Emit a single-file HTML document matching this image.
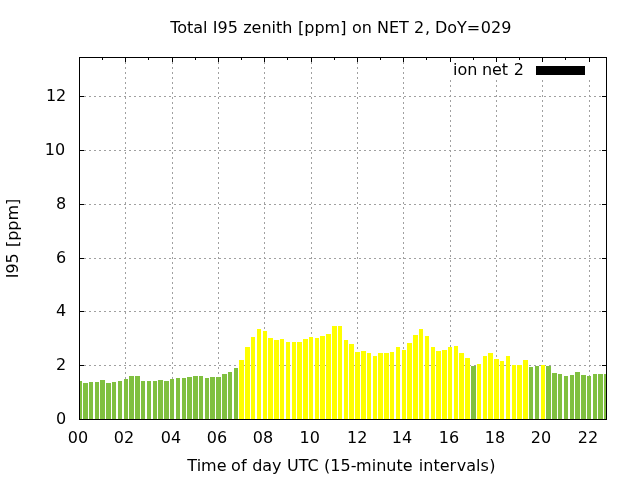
<!DOCTYPE html>
<html lang="en"><head><meta charset="utf-8"><title>Total I95 zenith [ppm] on NET 2, DoY=029</title>
<style>html,body{margin:0;padding:0;background:#fff}body{width:640px;height:480px;overflow:hidden}svg{display:block}text{font-family:"DejaVu Sans","Liberation Sans",sans-serif;font-size:16px;fill:#000}</style></head><body>
<svg width="640" height="480" viewBox="0 0 640 480">
<rect width="640" height="480" fill="#fff"/>
<g shape-rendering="crispEdges" fill="#a0a0a0">
<line x1="79" x2="607" y1="365.5" y2="365.5" stroke="#a0a0a0" stroke-width="1" stroke-dasharray="2 3" fill="none"/>
<line x1="79" x2="607" y1="311.5" y2="311.5" stroke="#a0a0a0" stroke-width="1" stroke-dasharray="2 3" fill="none"/>
<line x1="79" x2="607" y1="258.5" y2="258.5" stroke="#a0a0a0" stroke-width="1" stroke-dasharray="2 3" fill="none"/>
<line x1="79" x2="607" y1="204.5" y2="204.5" stroke="#a0a0a0" stroke-width="1" stroke-dasharray="2 3" fill="none"/>
<line x1="79" x2="607" y1="150.5" y2="150.5" stroke="#a0a0a0" stroke-width="1" stroke-dasharray="2 3" fill="none"/>
<line x1="79" x2="607" y1="96.5" y2="96.5" stroke="#a0a0a0" stroke-width="1" stroke-dasharray="2 3" fill="none"/>
<line x1="125.5" x2="125.5" y1="419" y2="57" stroke="#a0a0a0" stroke-width="1" stroke-dasharray="2 3" fill="none"/>
<line x1="172.5" x2="172.5" y1="419" y2="57" stroke="#a0a0a0" stroke-width="1" stroke-dasharray="2 3" fill="none"/>
<line x1="218.5" x2="218.5" y1="419" y2="57" stroke="#a0a0a0" stroke-width="1" stroke-dasharray="2 3" fill="none"/>
<line x1="264.5" x2="264.5" y1="419" y2="57" stroke="#a0a0a0" stroke-width="1" stroke-dasharray="2 3" fill="none"/>
<line x1="311.5" x2="311.5" y1="419" y2="57" stroke="#a0a0a0" stroke-width="1" stroke-dasharray="2 3" fill="none"/>
<line x1="357.5" x2="357.5" y1="419" y2="57" stroke="#a0a0a0" stroke-width="1" stroke-dasharray="2 3" fill="none"/>
<line x1="403.5" x2="403.5" y1="419" y2="57" stroke="#a0a0a0" stroke-width="1" stroke-dasharray="2 3" fill="none"/>
<line x1="450.5" x2="450.5" y1="80" y2="419" stroke="#a0a0a0" stroke-width="1" stroke-dasharray="2 3" fill="none"/>
<line x1="496.5" x2="496.5" y1="80" y2="419" stroke="#a0a0a0" stroke-width="1" stroke-dasharray="2 3" fill="none"/>
<line x1="542.5" x2="542.5" y1="80" y2="419" stroke="#a0a0a0" stroke-width="1" stroke-dasharray="2 3" fill="none"/>
<line x1="589.5" x2="589.5" y1="80" y2="419" stroke="#a0a0a0" stroke-width="1" stroke-dasharray="2 3" fill="none"/>
</g>
<g shape-rendering="crispEdges" fill="#000">
<rect x="79" y="57" width="1" height="5"/>
<rect x="79" y="415" width="1" height="5"/>
<rect x="125" y="57" width="1" height="5"/>
<rect x="125" y="415" width="1" height="5"/>
<rect x="172" y="57" width="1" height="5"/>
<rect x="172" y="415" width="1" height="5"/>
<rect x="218" y="57" width="1" height="5"/>
<rect x="218" y="415" width="1" height="5"/>
<rect x="264" y="57" width="1" height="5"/>
<rect x="264" y="415" width="1" height="5"/>
<rect x="311" y="57" width="1" height="5"/>
<rect x="311" y="415" width="1" height="5"/>
<rect x="357" y="57" width="1" height="5"/>
<rect x="357" y="415" width="1" height="5"/>
<rect x="403" y="57" width="1" height="5"/>
<rect x="403" y="415" width="1" height="5"/>
<rect x="450" y="57" width="1" height="5"/>
<rect x="450" y="415" width="1" height="5"/>
<rect x="496" y="57" width="1" height="5"/>
<rect x="496" y="415" width="1" height="5"/>
<rect x="542" y="57" width="1" height="5"/>
<rect x="542" y="415" width="1" height="5"/>
<rect x="589" y="57" width="1" height="5"/>
<rect x="589" y="415" width="1" height="5"/>
<rect x="102" y="57" width="1" height="3"/>
<rect x="102" y="417" width="1" height="3"/>
<rect x="148" y="57" width="1" height="3"/>
<rect x="148" y="417" width="1" height="3"/>
<rect x="195" y="57" width="1" height="3"/>
<rect x="195" y="417" width="1" height="3"/>
<rect x="241" y="57" width="1" height="3"/>
<rect x="241" y="417" width="1" height="3"/>
<rect x="287" y="57" width="1" height="3"/>
<rect x="287" y="417" width="1" height="3"/>
<rect x="334" y="57" width="1" height="3"/>
<rect x="334" y="417" width="1" height="3"/>
<rect x="380" y="57" width="1" height="3"/>
<rect x="380" y="417" width="1" height="3"/>
<rect x="426" y="57" width="1" height="3"/>
<rect x="426" y="417" width="1" height="3"/>
<rect x="473" y="57" width="1" height="3"/>
<rect x="473" y="417" width="1" height="3"/>
<rect x="519" y="57" width="1" height="3"/>
<rect x="519" y="417" width="1" height="3"/>
<rect x="565" y="57" width="1" height="3"/>
<rect x="565" y="417" width="1" height="3"/>
<rect x="79" y="419" width="5" height="1"/>
<rect x="602" y="419" width="5" height="1"/>
<rect x="79" y="365" width="5" height="1"/>
<rect x="602" y="365" width="5" height="1"/>
<rect x="79" y="311" width="5" height="1"/>
<rect x="602" y="311" width="5" height="1"/>
<rect x="79" y="258" width="5" height="1"/>
<rect x="602" y="258" width="5" height="1"/>
<rect x="79" y="204" width="5" height="1"/>
<rect x="602" y="204" width="5" height="1"/>
<rect x="79" y="150" width="5" height="1"/>
<rect x="602" y="150" width="5" height="1"/>
<rect x="79" y="96" width="5" height="1"/>
<rect x="602" y="96" width="5" height="1"/>
</g>
<g shape-rendering="crispEdges">
<rect x="80" y="381" width="2" height="38" fill="#80c040"/>
<rect x="83" y="383" width="5" height="36" fill="#80c040"/>
<rect x="89" y="382" width="4" height="37" fill="#80c040"/>
<rect x="95" y="382" width="4" height="37" fill="#80c040"/>
<rect x="100" y="380" width="5" height="39" fill="#80c040"/>
<rect x="106" y="383" width="5" height="36" fill="#80c040"/>
<rect x="112" y="382" width="4" height="37" fill="#80c040"/>
<rect x="118" y="381" width="4" height="38" fill="#80c040"/>
<rect x="124" y="379" width="4" height="40" fill="#80c040"/>
<rect x="129" y="376" width="5" height="43" fill="#80c040"/>
<rect x="135" y="376" width="5" height="43" fill="#80c040"/>
<rect x="141" y="381" width="4" height="38" fill="#80c040"/>
<rect x="147" y="381" width="4" height="38" fill="#80c040"/>
<rect x="153" y="381" width="4" height="38" fill="#80c040"/>
<rect x="158" y="380" width="5" height="39" fill="#80c040"/>
<rect x="164" y="381" width="5" height="38" fill="#80c040"/>
<rect x="170" y="379" width="4" height="40" fill="#80c040"/>
<rect x="176" y="378" width="4" height="41" fill="#80c040"/>
<rect x="182" y="378" width="4" height="41" fill="#80c040"/>
<rect x="187" y="377" width="5" height="42" fill="#80c040"/>
<rect x="193" y="376" width="5" height="43" fill="#80c040"/>
<rect x="199" y="376" width="4" height="43" fill="#80c040"/>
<rect x="205" y="378" width="4" height="41" fill="#80c040"/>
<rect x="210" y="377" width="5" height="42" fill="#80c040"/>
<rect x="216" y="377" width="5" height="42" fill="#80c040"/>
<rect x="222" y="374" width="5" height="45" fill="#80c040"/>
<rect x="228" y="372" width="4" height="47" fill="#80c040"/>
<rect x="234" y="368" width="4" height="51" fill="#80c040"/>
<rect x="239" y="360" width="5" height="59" fill="#ffff00"/>
<rect x="245" y="347" width="5" height="72" fill="#ffff00"/>
<rect x="251" y="337" width="4" height="82" fill="#ffff00"/>
<rect x="257" y="329" width="4" height="90" fill="#ffff00"/>
<rect x="263" y="331" width="4" height="88" fill="#ffff00"/>
<rect x="268" y="338" width="5" height="81" fill="#ffff00"/>
<rect x="274" y="340" width="5" height="79" fill="#ffff00"/>
<rect x="280" y="339" width="4" height="80" fill="#ffff00"/>
<rect x="286" y="342" width="4" height="77" fill="#ffff00"/>
<rect x="292" y="342" width="4" height="77" fill="#ffff00"/>
<rect x="297" y="342" width="5" height="77" fill="#ffff00"/>
<rect x="303" y="339" width="5" height="80" fill="#ffff00"/>
<rect x="309" y="337" width="4" height="82" fill="#ffff00"/>
<rect x="315" y="338" width="4" height="81" fill="#ffff00"/>
<rect x="320" y="336" width="5" height="83" fill="#ffff00"/>
<rect x="326" y="334" width="5" height="85" fill="#ffff00"/>
<rect x="332" y="326" width="5" height="93" fill="#ffff00"/>
<rect x="338" y="326" width="4" height="93" fill="#ffff00"/>
<rect x="344" y="340" width="4" height="79" fill="#ffff00"/>
<rect x="349" y="344" width="5" height="75" fill="#ffff00"/>
<rect x="355" y="352" width="5" height="67" fill="#ffff00"/>
<rect x="361" y="351" width="5" height="68" fill="#ffff00"/>
<rect x="367" y="353" width="4" height="66" fill="#ffff00"/>
<rect x="373" y="356" width="4" height="63" fill="#ffff00"/>
<rect x="378" y="353" width="5" height="66" fill="#ffff00"/>
<rect x="384" y="353" width="5" height="66" fill="#ffff00"/>
<rect x="390" y="352" width="4" height="67" fill="#ffff00"/>
<rect x="396" y="347" width="4" height="72" fill="#ffff00"/>
<rect x="402" y="350" width="4" height="69" fill="#ffff00"/>
<rect x="407" y="343" width="5" height="76" fill="#ffff00"/>
<rect x="413" y="335" width="5" height="84" fill="#ffff00"/>
<rect x="419" y="329" width="4" height="90" fill="#ffff00"/>
<rect x="425" y="336" width="4" height="83" fill="#ffff00"/>
<rect x="431" y="347" width="4" height="72" fill="#ffff00"/>
<rect x="436" y="351" width="5" height="68" fill="#ffff00"/>
<rect x="442" y="350" width="5" height="69" fill="#ffff00"/>
<rect x="448" y="347" width="4" height="72" fill="#ffff00"/>
<rect x="454" y="346" width="4" height="73" fill="#ffff00"/>
<rect x="459" y="353" width="5" height="66" fill="#ffff00"/>
<rect x="465" y="358" width="5" height="61" fill="#ffff00"/>
<rect x="471" y="366" width="5" height="53" fill="#80c040"/>
<rect x="477" y="364" width="4" height="55" fill="#ffff00"/>
<rect x="483" y="356" width="4" height="63" fill="#ffff00"/>
<rect x="488" y="353" width="5" height="66" fill="#ffff00"/>
<rect x="494" y="359" width="5" height="60" fill="#ffff00"/>
<rect x="500" y="361" width="4" height="58" fill="#ffff00"/>
<rect x="506" y="356" width="4" height="63" fill="#ffff00"/>
<rect x="512" y="365" width="4" height="54" fill="#ffff00"/>
<rect x="517" y="365" width="5" height="54" fill="#ffff00"/>
<rect x="523" y="360" width="5" height="59" fill="#ffff00"/>
<rect x="529" y="367" width="4" height="52" fill="#80c040"/>
<rect x="535" y="366" width="4" height="53" fill="#80c040"/>
<rect x="541" y="365" width="4" height="54" fill="#ffff00"/>
<rect x="546" y="366" width="5" height="53" fill="#80c040"/>
<rect x="552" y="373" width="5" height="46" fill="#80c040"/>
<rect x="558" y="374" width="4" height="45" fill="#80c040"/>
<rect x="564" y="376" width="4" height="43" fill="#80c040"/>
<rect x="570" y="375" width="4" height="44" fill="#80c040"/>
<rect x="575" y="372" width="5" height="47" fill="#80c040"/>
<rect x="581" y="375" width="5" height="44" fill="#80c040"/>
<rect x="587" y="376" width="4" height="43" fill="#80c040"/>
<rect x="593" y="374" width="4" height="45" fill="#80c040"/>
<rect x="598" y="374" width="5" height="45" fill="#80c040"/>
<rect x="604" y="374" width="2" height="45" fill="#80c040"/>
</g>
<g shape-rendering="crispEdges" fill="#000"><rect x="79" y="57" width="528" height="1"/><rect x="79" y="419" width="528" height="1"/><rect x="79" y="57" width="1" height="363"/><rect x="606" y="57" width="1" height="363"/></g>
<rect x="536" y="66" width="49" height="9" fill="#000" shape-rendering="crispEdges"/>
<text y="75"><tspan x="453.02">ion </tspan><tspan dx="-0.6">net </tspan><tspan dx="0.6">2</tspan></text>
<text y="33"><tspan x="170.15">Total </tspan><tspan x="212.83">I95 </tspan><tspan x="243.21">zenith </tspan><tspan x="298.02">[ppm] </tspan><tspan x="351.92">on </tspan><tspan x="377.03">NET </tspan><tspan x="413.93">2</tspan><tspan dx="1">, </tspan><tspan x="434.93">DoY=</tspan><tspan dx="0.6">029</tspan></text>
<text y="471"><tspan x="187.35">Time </tspan><tspan x="231.12">of </tspan><tspan x="252.17">day </tspan><tspan x="287.01">UTC </tspan><tspan x="324.12">(15-</tspan><tspan dx="-0.4">minute </tspan><tspan x="418.8">inter</tspan><tspan dx="0.7">vals</tspan><tspan dx="0.3">)</tspan></text>
<text transform="translate(17.8,238) rotate(-90)"><tspan x="-40.3">I95 </tspan><tspan x="-9.1">[ppm]</tspan></text>
<text x="78" y="443" text-anchor="middle">00</text>
<text x="124" y="443" text-anchor="middle">02</text>
<text x="171" y="443" text-anchor="middle">04</text>
<text x="217" y="443" text-anchor="middle">06</text>
<text x="263" y="443" text-anchor="middle">08</text>
<text x="309.7" y="443" text-anchor="middle">10</text>
<text x="357.2" y="443" text-anchor="middle">12</text>
<text x="402" y="443" text-anchor="middle">14</text>
<text x="449" y="443" text-anchor="middle">16</text>
<text x="495" y="443" text-anchor="middle">18</text>
<text x="541" y="443" text-anchor="middle">20</text>
<text x="588" y="443" text-anchor="middle">22</text>
<text x="66.3" y="423.5" text-anchor="end">0</text>
<text x="66.3" y="369.5" text-anchor="end">2</text>
<text x="66.3" y="315.5" text-anchor="end">4</text>
<text x="66.3" y="262.5" text-anchor="end">6</text>
<text x="66.3" y="208.5" text-anchor="end">8</text>
<text x="65.1" y="154.5" text-anchor="end">10</text>
<text x="66.3" y="100.5" text-anchor="end">12</text>
</svg></body></html>
